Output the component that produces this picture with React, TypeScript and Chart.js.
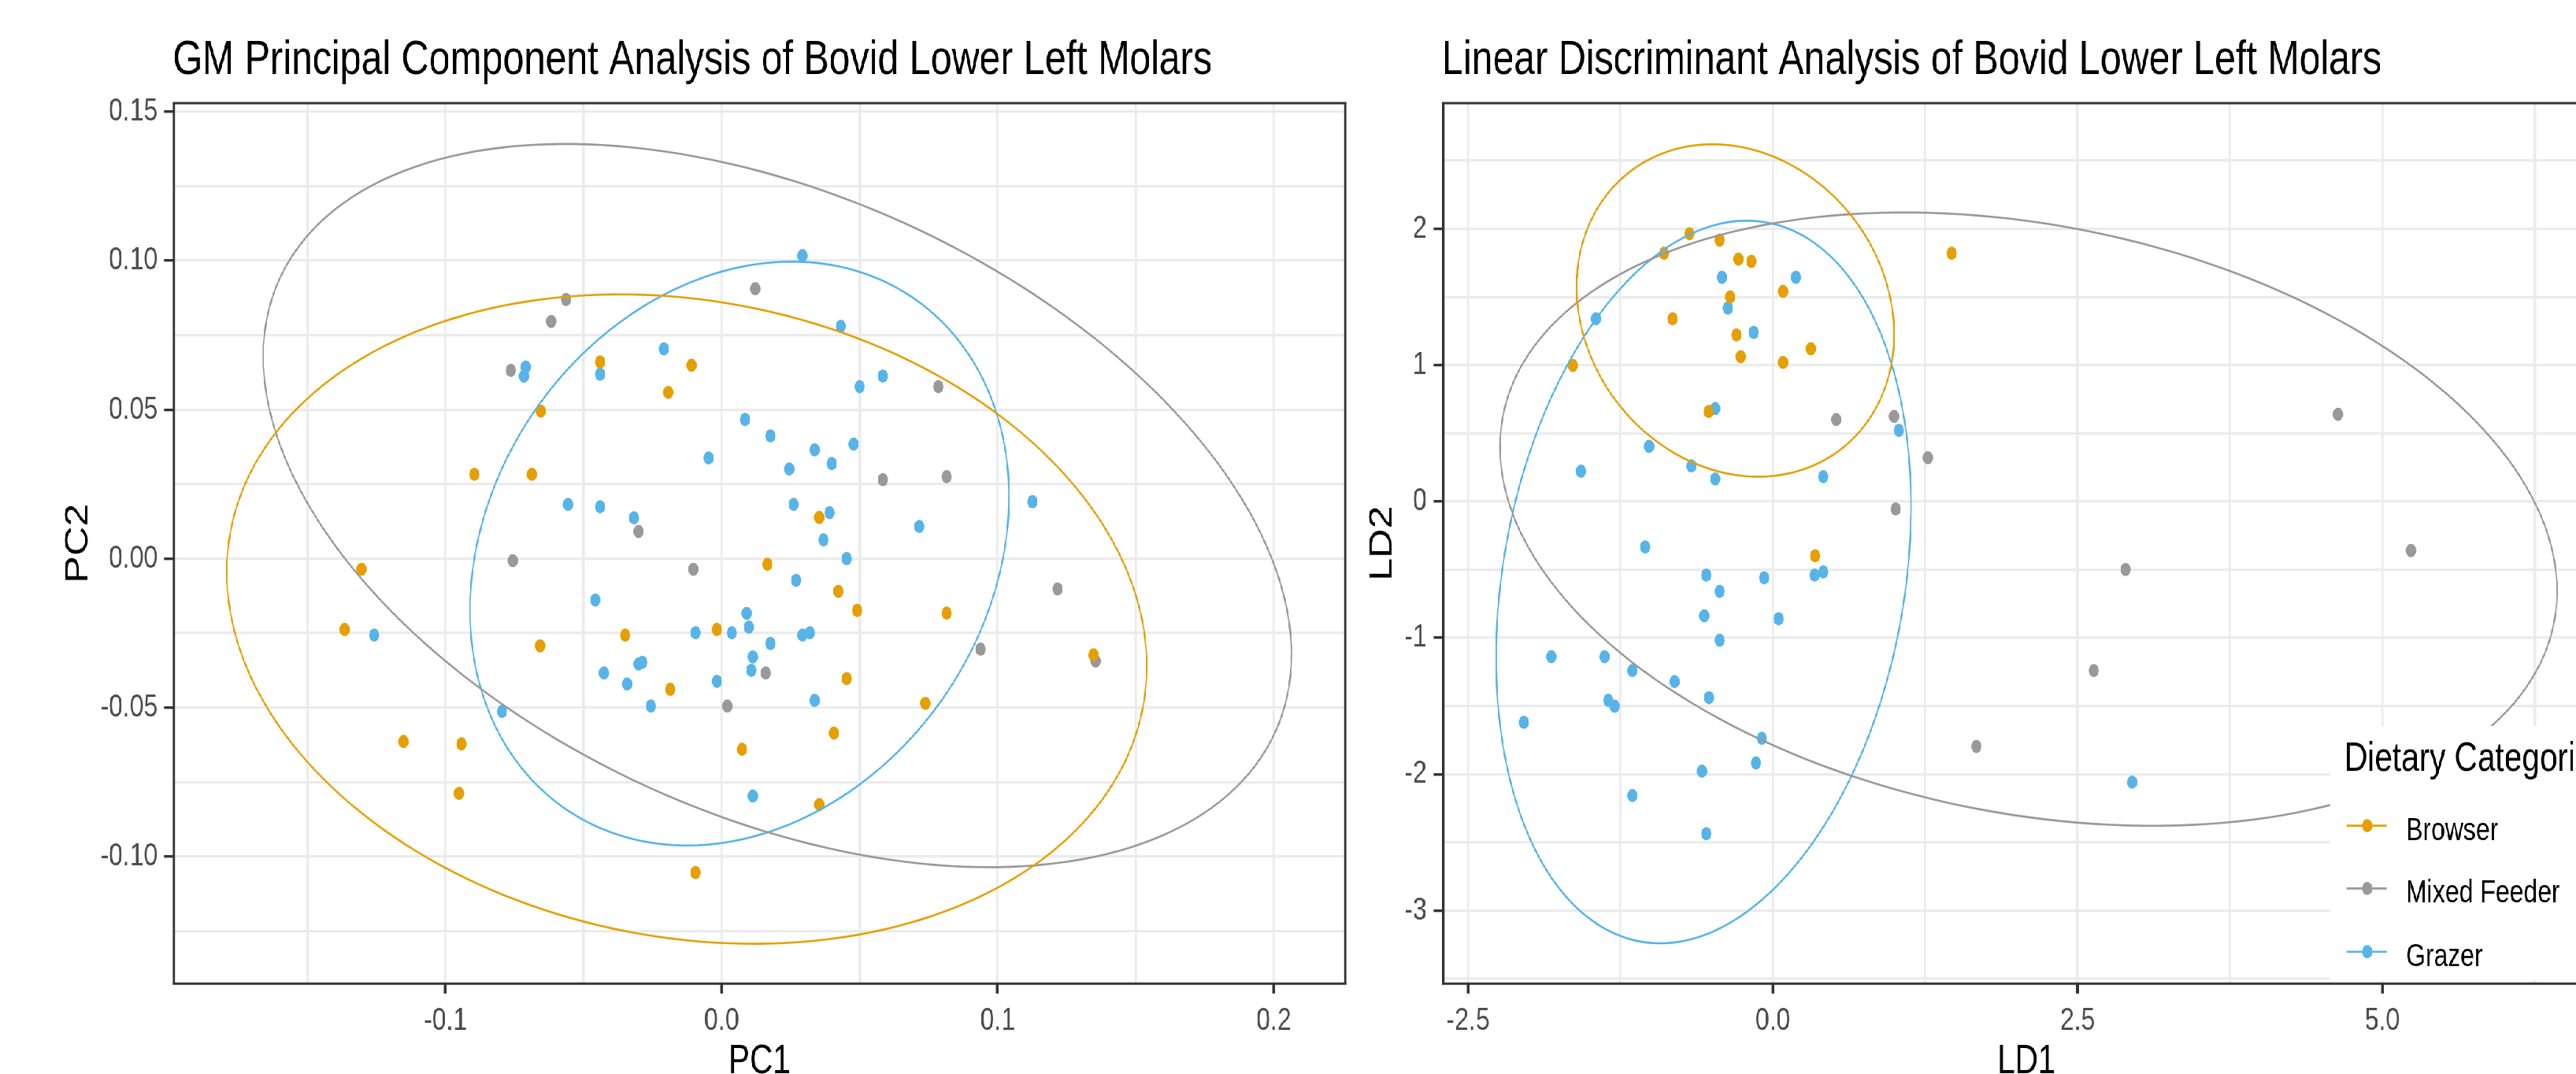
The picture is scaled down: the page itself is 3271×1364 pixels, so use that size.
import React, { useEffect, useRef } from "react";
import { Chart, registerables } from "chart.js";

Chart.register(...registerables);

const FONT = '"Liberation Sans", Arial, Helvetica, sans-serif';

// ---------------- data ----------------
const groupNames = ["Browser", "Mixed Feeder", "Grazer"];
const groupColors = ["#E69F00", "#999999", "#56B4E9"];

// PCA panel
const pcaBrowserX = [-0.0440, -0.0109, -0.0193, -0.0655, -0.0895, -0.0687, 0.0354, -0.1304, 0.0166, -0.1365, -0.0349, -0.0017, -0.0657, -0.0186, -0.1152, -0.0942, 0.0074, -0.0951, -0.0094, 0.0423, 0.0491, 0.0815, 0.1347, 0.0453, 0.0738, 0.0407, 0.0354];
const pcaBrowserY = [0.0660, 0.0649, 0.0558, 0.0495, 0.0283, 0.0283, 0.0138, -0.0036, -0.0019, -0.0238, -0.0257, -0.0238, -0.0293, -0.0439, -0.0614, -0.0622, -0.0640, -0.0788, -0.1054, -0.0110, -0.0174, -0.0183, -0.0323, -0.0403, -0.0486, -0.0586, -0.0826];
const pcaMixedX = [-0.0563, -0.0617, -0.0763, -0.0301, 0.0122, 0.0785, 0.0584, 0.0815, -0.0756, -0.0102, 0.0160, 0.0021, 0.1217, 0.0938, 0.1355];
const pcaMixedY = [0.0870, 0.0796, 0.0632, 0.0091, 0.0906, 0.0577, 0.0265, 0.0275, -0.0007, -0.0036, -0.0384, -0.0495, -0.0102, -0.0304, -0.0344];
const pcaGrazerX = [-0.0209, -0.0709, -0.0716, -0.0440, 0.0085, 0.0177, -0.0047, -0.0556, -0.0440, -0.0317, 0.0293, 0.0432, 0.0584, 0.0500, 0.0337, 0.0478, 0.0245, 0.0399, 0.0261, 0.0391, 0.0716, 0.1126, 0.0369, -0.0457, 0.0091, 0.0099, -0.1258, -0.0094, 0.0037, 0.0177, 0.0113, -0.0301, -0.0287, -0.0426, 0.0108, -0.0342, -0.0017, -0.0256, -0.0795, 0.0113, 0.0453, 0.0270, 0.0293, 0.0320, 0.0337];
const pcaGrazerY = [0.0704, 0.0643, 0.0612, 0.0619, 0.0467, 0.0412, 0.0338, 0.0182, 0.0174, 0.0137, 0.1017, 0.0780, 0.0613, 0.0577, 0.0365, 0.0384, 0.0301, 0.0319, 0.0182, 0.0154, 0.0108, 0.0191, 0.0063, -0.0139, -0.0184, -0.0230, -0.0257, -0.0249, -0.0249, -0.0285, -0.0330, -0.0354, -0.0348, -0.0384, -0.0375, -0.0421, -0.0412, -0.0495, -0.0513, -0.0797, 0.0000, -0.0073, -0.0257, -0.0249, -0.0476];

// PCA 95% ellipses, order [Browser, Mixed Feeder, Grazer]
const pcaEllCx = [-0.0126, 0.0202, 0.0065];
const pcaEllCy = [-0.0203, 0.0178, 0.0017];
const pcaEllRx = [0.1666, 0.1862, 0.0976];
const pcaEllRy = [0.1090, 0.1214, 0.0980];
const pcaEllTilt = [-0.145, -0.412, 0.195];

const pcaXRange = [-0.1983, 0.2258];
const pcaYRange = [-0.1427, 0.1529];
const pcaXMajor = [-0.1, 0, 0.1, 0.2];
const pcaXLabels = ["-0.1", "0.0", "0.1", "0.2"];
const pcaXMinor = [-0.15, -0.05, 0.05, 0.15];
const pcaYMajor = [-0.1, -0.05, 0, 0.05, 0.1, 0.15];
const pcaYLabels = ["-0.10", "-0.05", "0.00", "0.05", "0.10", "0.15"];
const pcaYMinor = [-0.125, -0.075, -0.025, 0.025, 0.075, 0.125];

// LDA panel
const ldaBrowserX = [-0.684, -0.436, -0.892, -0.282, -0.176, 1.467, 0.084, -0.350, -0.822, -0.298, 0.312, -0.263, 0.084, -1.640, -0.526, 0.347];
const ldaBrowserY = [1.964, 1.917, 1.821, 1.778, 1.761, 1.821, 1.541, 1.500, 1.340, 1.222, 1.120, 1.062, 1.020, 0.998, 0.660, -0.398];
const ldaMixedX = [0.520, 0.995, 1.272, 1.008, 4.636, 5.235, 1.670, 2.894, 2.633];
const ldaMixedY = [0.601, 0.624, 0.321, -0.055, 0.639, -0.360, -1.797, -0.499, -1.240];
const ldaGrazerX = [-0.417, 0.190, -0.369, -1.451, -0.157, -0.472, 1.034, -1.015, -1.573, -0.668, -0.472, 0.414, -1.047, -0.546, -0.070, 0.343, 0.414, -0.436, -0.562, 0.048, -0.436, -1.817, -1.380, -1.152, -0.806, -0.523, -1.349, -1.297, -2.042, -0.090, -0.138, -0.581, -1.152, -0.546, 2.948];
const ldaGrazerY = [1.644, 1.644, 1.419, 1.340, 1.240, 0.682, 0.522, 0.404, 0.222, 0.261, 0.165, 0.182, -0.333, -0.540, -0.560, -0.540, -0.517, -0.660, -0.839, -0.860, -1.018, -1.139, -1.139, -1.240, -1.321, -1.439, -1.459, -1.502, -1.620, -1.737, -1.918, -1.978, -2.157, -2.437, -2.059];

const ldaEllCx = [-0.307, 2.0975, -0.568];
const ldaEllCy = [1.401, -0.1295, -0.5905];
const ldaEllRx = [1.302, 4.3355, 1.702];
const ldaEllRy = [1.219, 2.2495, 2.6505];
const ldaEllTilt = [-0.144, -0.235, 0.209];

const ldaXRange = [-2.704, 6.866];
const ldaYRange = [-3.537, 2.922];
const ldaXMajor = [-2.5, 0, 2.5, 5];
const ldaXLabels = ["-2.5", "0.0", "2.5", "5.0"];
const ldaXMinor = [-1.25, 1.25, 3.75, 6.25];
const ldaYMajor = [-3, -2, -1, 0, 1, 2];
const ldaYLabels = ["-3", "-2", "-1", "0", "1", "2"];
const ldaYMinor = [-3.5, -2.5, -1.5, -0.5, 0.5, 1.5, 2.5];

// ---------------- layout (logical px; page is squeezed horizontally) ----------------
const SQUEEZE = 0.78;
const CANVAS_H = 1380;

function ellipsePoints(cx: number, cy: number, rx: number, ry: number, tilt: number) {
  const phi = Math.acos(Math.max(-1, Math.min(1, tilt)));
  const pts: { x: number; y: number }[] = [];
  const n = 200;
  for (let i = 0; i <= n; i++) {
    const t = (2 * Math.PI * i) / n;
    pts.push({ x: cx + rx * Math.cos(t), y: cy + ry * Math.cos(t + phi) });
  }
  return pts;
}

function makeAxis(horizontal: boolean, range: number[], major: number[], minor: number[], labels: string[], size: number, title: string, titlePad: any) {
  const near = (a: number, b: number) => Math.abs(a - b) < 1e-9;
  const isMajor = (v: number) => major.some((m) => near(m, v));
  return {
    type: "linear",
    position: horizontal ? "bottom" : "left",
    min: range[0],
    max: range[1],
    bounds: "data",
    afterBuildTicks: (s: any) => {
      s.ticks = major.concat(minor).sort((a, b) => a - b).map((v) => ({ value: v }));
    },
    afterFit: (s: any) => {
      if (horizontal) s.height = size;
      else s.width = size;
    },
    ticks: {
      autoSkip: false,
      maxRotation: 0,
      minRotation: 0,
      color: "#4D4D4D",
      font: { family: FONT, size: 41, lineHeight: 1.2 },
      padding: horizontal ? 10 : 10.5,
      callback: (v: number) => {
        const i = major.findIndex((m) => near(m, v));
        return i >= 0 ? labels[i] : "";
      },
    },
    grid: {
      color: "#EBEBEB",
      lineWidth: horizontal ? 3.6 : 3.3,
      drawTicks: true,
      tickLength: horizontal ? 12.5 : 16,
      tickWidth: horizontal ? 4.5 : 3.3,
      tickColor: (ctx: any) => (ctx.tick && isMajor(ctx.tick.value) ? "#333333" : "rgba(0,0,0,0)"),
    },
    border: { display: false },
    title: {
      display: true,
      text: title,
      color: "#000000",
      font: { family: FONT, size: 52, lineHeight: 1.2 },
      padding: titlePad,
    },
  };
}

const decorPlugin = {
  id: "panelDecor",
  afterDraw(chart: any, _args: any, opts: any) {
    const ctx = chart.ctx;
    const a = chart.chartArea;
    ctx.save();
    // panel title
    ctx.font = `62px ${FONT}`;
    ctx.fillStyle = "#000000";
    ctx.textAlign = "left";
    ctx.textBaseline = "alphabetic";
    ctx.fillText(opts.title, a.left - 2, 94.3);

    // legend (inside panel, bottom right)
    if (opts.legend) {
      const lx = opts.legendX;
      ctx.fillStyle = "#FFFFFF";
      ctx.fillRect(lx, 922, chart.width - lx, 1245 - 922);
      ctx.fillStyle = "#000000";
      ctx.font = `52px ${FONT}`;
      ctx.fillText("Dietary Categories", lx + 24, 978.8);
      const rows = [1048.6, 1128.4, 1208.7];
      for (let g = 0; g < groupNames.length; g++) {
        const y = rows[g];
        ctx.strokeStyle = groupColors[g];
        ctx.lineWidth = 2.6;
        ctx.beginPath();
        ctx.moveTo(lx + 27, y);
        ctx.lineTo(lx + 93, y);
        ctx.stroke();
        ctx.fillStyle = groupColors[g];
        ctx.beginPath();
        ctx.arc(lx + 61, y, 8.4, 0, Math.PI * 2);
        ctx.fill();
        ctx.fillStyle = "#000000";
        ctx.font = `41px ${FONT}`;
        ctx.fillText(groupNames[g], lx + 124, y + 18);
      }
    }

    // panel border
    ctx.strokeStyle = "#333333";
    ctx.lineWidth = 3;
    ctx.beginPath();
    ctx.moveTo(a.left - 1.9, a.top);
    ctx.lineTo(a.right + 1.9, a.top);
    ctx.moveTo(a.left - 1.9, a.bottom);
    ctx.lineTo(a.right + 1.9, a.bottom);
    ctx.stroke();
    ctx.lineWidth = 3.8;
    ctx.beginPath();
    ctx.moveTo(a.left, a.top);
    ctx.lineTo(a.left, a.bottom);
    ctx.moveTo(a.right, a.top);
    ctx.lineTo(a.right, a.bottom);
    ctx.stroke();
    ctx.restore();
  },
};

type PanelSpec = {
  left: number;
  width: number;
  yAxisWidth: number;
  padRight: number;
  title: string;
  xTitle: string;
  yTitle: string;
  yTitlePad: number;
  xs: number[][];
  ys: number[][];
  ell: number[][];
  xRange: number[];
  yRange: number[];
  xMajor: number[];
  xMinor: number[];
  xLabels: string[];
  yMajor: number[];
  yMinor: number[];
  yLabels: string[];
  legend: boolean;
  legendX: number;
};

function buildConfig(p: PanelSpec): any {
  const datasets: any[] = [];
  for (let g = 0; g < groupNames.length; g++) {
    datasets.push({
      type: "scatter",
      label: groupNames[g] + " ellipse",
      data: ellipsePoints(p.ell[0][g], p.ell[1][g], p.ell[2][g], p.ell[3][g], p.ell[4][g]),
      showLine: true,
      borderColor: groupColors[g],
      borderWidth: 2.6,
      pointRadius: 0,
      fill: false,
      tension: 0,
      order: 0,
    });
  }
  for (let g = 0; g < groupNames.length; g++) {
    datasets.push({
      type: "scatter",
      label: groupNames[g],
      data: p.xs[g].map((x, i) => ({ x, y: p.ys[g][i] })),
      showLine: false,
      pointRadius: 8.4,
      pointBorderWidth: 0,
      pointBackgroundColor: groupColors[g],
      backgroundColor: groupColors[g],
      borderColor: groupColors[g],
      order: 1,
    });
  }
  return {
    type: "scatter",
    data: { datasets },
    options: {
      animation: false,
      responsive: false,
      devicePixelRatio: 1,
      events: [],
      layout: { padding: { left: 0, top: 131, right: p.padRight, bottom: 0 } },
      plugins: {
        legend: { display: false },
        tooltip: { enabled: false },
        title: { display: false },
        panelDecor: { title: p.title, legend: p.legend, legendX: p.legendX },
      },
      scales: {
        x: makeAxis(true, p.xRange, p.xMajor, p.xMinor, p.xLabels, CANVAS_H - 1249.3, p.xTitle, { top: 0, bottom: 0 }),
        y: makeAxis(false, p.yRange, p.yMajor, p.yMinor, p.yLabels, p.yAxisWidth, p.yTitle, { top: p.yTitlePad, bottom: 0 }),
      },
    },
    plugins: [decorPlugin],
  };
}

const pcaSpec: PanelSpec = {
  left: 0,
  width: 2220,
  yAxisWidth: 283.3,
  padRight: 2220 - 2189.7,
  title: "GM Principal Component Analysis of Bovid Lower Left Molars",
  xTitle: "PC1",
  yTitle: "PC2",
  yTitlePad: 96,
  xs: [pcaBrowserX, pcaMixedX, pcaGrazerX],
  ys: [pcaBrowserY, pcaMixedY, pcaGrazerY],
  ell: [pcaEllCx, pcaEllCy, pcaEllRx, pcaEllRy, pcaEllTilt],
  xRange: pcaXRange,
  yRange: pcaYRange,
  xMajor: pcaXMajor,
  xMinor: pcaXMinor,
  xLabels: pcaXLabels,
  yMajor: pcaYMajor,
  yMinor: pcaYMinor,
  yLabels: pcaYLabels,
  legend: false,
  legendX: 0,
};

const ldaSpec: PanelSpec = {
  left: 2200,
  width: 2120,
  yAxisWidth: 149.4,
  padRight: 2120 - 2048.7,
  title: "Linear Discriminant Analysis of Bovid Lower Left Molars",
  xTitle: "LD1",
  yTitle: "LD2",
  yTitlePad: 19.4,
  xs: [ldaBrowserX, ldaMixedX, ldaGrazerX],
  ys: [ldaBrowserY, ldaMixedY, ldaGrazerY],
  ell: [ldaEllCx, ldaEllCy, ldaEllRx, ldaEllRy, ldaEllTilt],
  xRange: ldaXRange,
  yRange: ldaYRange,
  xMajor: ldaXMajor,
  xMinor: ldaXMinor,
  xLabels: ldaXLabels,
  yMajor: ldaYMajor,
  yMinor: ldaYMinor,
  yLabels: ldaYLabels,
  legend: true,
  legendX: 3792.7 - 2200,
};

function PanelChart({ spec }: { spec: PanelSpec }) {
  const ref = useRef<HTMLCanvasElement | null>(null);
  useEffect(() => {
    if (!ref.current) return;
    const chart = new Chart(ref.current, buildConfig(spec));
    return () => chart.destroy();
  }, [spec]);
  return (
    <canvas
      ref={ref}
      width={spec.width}
      height={CANVAS_H}
      style={{ position: "absolute", left: spec.left, top: 0, width: spec.width + "px", height: CANVAS_H + "px" }}
    />
  );
}

export default function App() {
  return (
    <div style={{ position: "absolute", left: 0, top: 0, width: 3271, height: 1364, overflow: "hidden", background: "#FFFFFF" }}>
      <div
        style={{
          position: "absolute",
          left: 0,
          top: 0,
          width: 4320,
          height: CANVAS_H,
          transform: `scaleX(${SQUEEZE})`,
          transformOrigin: "0 0",
        }}
      >
        <PanelChart spec={pcaSpec} />
        <PanelChart spec={ldaSpec} />
      </div>
    </div>
  );
}
